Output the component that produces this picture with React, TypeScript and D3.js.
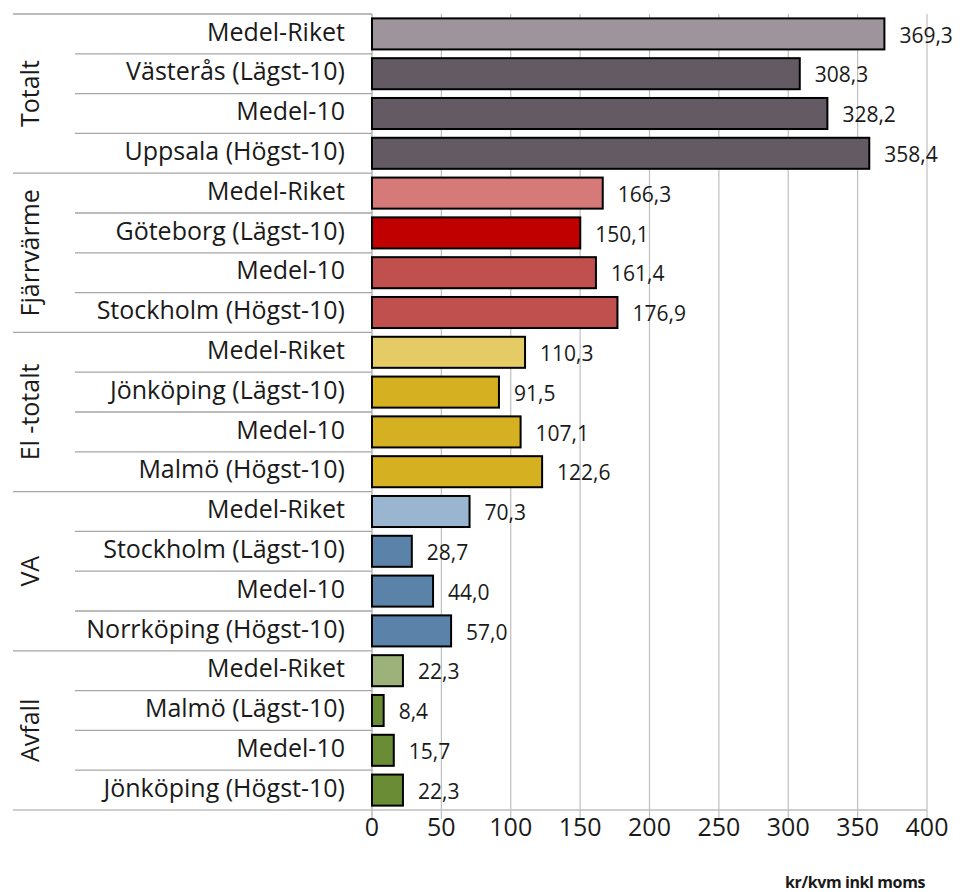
import React from "react";
import * as d3 from "d3";

const groups = ["Totalt", "Fjärrvärme", "El -totalt", "VA", "Avfall"];
const rowLabels = [
  ["Medel-Riket", "Västerås (Lägst-10)", "Medel-10", "Uppsala (Högst-10)"],
  ["Medel-Riket", "Göteborg (Lägst-10)", "Medel-10", "Stockholm (Högst-10)"],
  ["Medel-Riket", "Jönköping (Lägst-10)", "Medel-10", "Malmö (Högst-10)"],
  ["Medel-Riket", "Stockholm (Lägst-10)", "Medel-10", "Norrköping (Högst-10)"],
  ["Medel-Riket", "Malmö (Lägst-10)", "Medel-10", "Jönköping (Högst-10)"],
];
const values = [
  [369.3, 308.3, 328.2, 358.4],
  [166.3, 150.1, 161.4, 176.9],
  [110.3, 91.5, 107.1, 122.6],
  [70.3, 28.7, 44.0, 57.0],
  [22.3, 8.4, 15.7, 22.3],
];
const colors = [
  ["#9d949c", "#645a63", "#645a63", "#645a63"],
  ["#d57a79", "#c00000", "#c0504d", "#c0504d"],
  ["#e5cb66", "#d5b021", "#d5b021", "#d5b021"],
  ["#9ab5cf", "#5b83a9", "#5b83a9", "#5b83a9"],
  ["#9db27a", "#6a8c34", "#6a8c34", "#6a8c34"],
];
const xTicks = [0, 50, 100, 150, 200, 250, 300, 350, 400];
const axisTitle = "kr/kvm inkl moms";

export default function App() {
  const W = 965, H = 892;
  const x0 = 372, x1 = 927, top = 14, bottom = 810;
  const font = "'Open Sans', sans-serif";
  const rows = groups.flatMap((g, gi) =>
    rowLabels[gi].map((l, ri) => ({ key: `${gi}-${ri}`, gi, ri, label: l, value: values[gi][ri], color: colors[gi][ri] }))
  );
  const x = d3.scaleLinear().domain([0, 400]).range([x0, x1]);
  const y = d3.scaleBand<string>().domain(rows.map((r) => r.key)).range([top, bottom]).paddingInner(0.22).paddingOuter(0.11);
  const step = y.step();
  const fmt = (v: number) => d3.format(".1f")(v).replace(".", ",");
  return (
    <svg width={W} height={H} style={{ display: "block", position: "absolute", left: 0, top: 0, background: "#fff" }}>
      {/* gridlines */}
      {xTicks.map((t) => (
        <line key={t} x1={x(t)} x2={x(t)} y1={top} y2={bottom + 9} stroke={t === 0 ? "#a6a6a6" : "#bfbfbf"} strokeWidth={1.2} />
      ))}
      {/* group separators */}
      {groups.map((g, gi) => (
        <line key={"gs" + gi} x1={13} x2={x0} y1={top + gi * 4 * step} y2={top + gi * 4 * step} stroke="#a6a6a6" strokeWidth={1.3} />
      ))}
      <line x1={13} x2={x1} y1={bottom} y2={bottom} stroke="#bfbfbf" strokeWidth={1.3} />
      {/* row separators */}
      {rows.filter((r) => r.ri > 0).map((r) => {
        const yy = top + (r.gi * 4 + r.ri) * step;
        return <line key={"rs" + r.key} x1={75} x2={x0} y1={yy} y2={yy} stroke="#a6a6a6" strokeWidth={1.3} />;
      })}
      {/* bars */}
      {rows.map((r) => (
        <rect key={"b" + r.key} x={x(0)} y={y(r.key)!} width={x(r.value) - x(0)} height={y.bandwidth()} fill={r.color} stroke="#000" strokeWidth={2} />
      ))}
      {/* value labels */}
      {rows.map((r) => (
        <text key={"v" + r.key} x={x(r.value) + 15} y={y(r.key)! + y.bandwidth() / 2 + 3} dominantBaseline="middle" fontFamily={font} fontSize={21} fill="#1a1a1a">
          {fmt(r.value)}
        </text>
      ))}
      {/* row labels */}
      {rows.map((r) => (
        <text key={"l" + r.key} x={345} y={top + (r.gi * 4 + r.ri + 0.5) * step} textAnchor="end" dominantBaseline="middle" fontFamily={font} fontSize={25} fill="#1a1a1a">
          {r.label}
        </text>
      ))}
      {/* group labels */}
      {groups.map((g, gi) => {
        const cy = top + (gi * 4 + 2) * step;
        return (
          <text key={"g" + gi} transform={`translate(32,${cy}) rotate(-90)`} textAnchor="middle" dominantBaseline="middle" fontFamily={font} fontSize={25} fill="#1a1a1a">
            {g}
          </text>
        );
      })}
      {/* x tick labels */}
      {xTicks.map((t) => (
        <text key={"t" + t} x={x(t)} y={829} textAnchor="middle" dominantBaseline="middle" fontFamily={font} fontSize={25} fill="#1a1a1a">
          {t}
        </text>
      ))}
      <text x={925} y={888} textAnchor="end" fontFamily={font} fontSize={16} fontWeight="bold" letterSpacing={-0.4} fill="#1a1a1a">
        {axisTitle}
      </text>
    </svg>
  );
}
